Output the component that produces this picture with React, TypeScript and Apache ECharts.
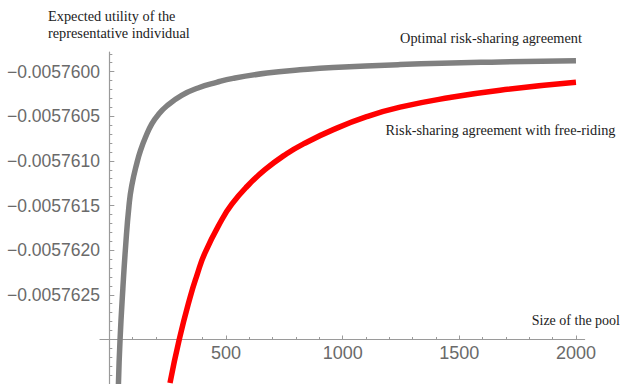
import React, { useEffect, useRef } from "react";
import * as echarts from "echarts";

// Pool size (number of members) and expected utility, optimal agreement
const optimalPoolSize = [39, 46, 58, 70, 84, 96, 119, 136, 155, 182, 209, 246, 310, 380, 460, 530, 676, 817, 959, 1246, 1675, 2000];
const optimalUtility = [
  -0.0057635, -0.005763, -0.00576243, -0.00576195, -0.00576151, -0.00576128, -0.005761015, -0.005760865,
  -0.005760735, -0.005760585, -0.005760485, -0.005760385, -0.005760265, -0.005760183, -0.00576012,
  -0.005760076, -0.005760016, -0.00575998, -0.005759953, -0.005759921, -0.005759891, -0.005759877,
];

// Agreement with free-riding
const freeRidingPoolSize = [260, 300, 346, 375, 410, 482, 525, 589, 667, 760, 832, 960, 1103, 1246, 1460, 1675, 2000];
const freeRidingUtility = [
  -0.00576349, -0.005762997, -0.00576253, -0.005762285, -0.00576203, -0.00576166, -0.005761485, -0.00576129,
  -0.005761099, -0.00576092, -0.00576081, -0.00576065, -0.005760505, -0.005760398, -0.00576029,
  -0.005760208, -0.00576012,
];

// Axis ticks and labels
const yMajorTicks = [-0.0057635, -0.005763, -0.0057625, -0.005762, -0.0057615, -0.005761, -0.0057605, -0.00576];
const yLabelValues = [-0.0057625, -0.005762, -0.0057615, -0.005761, -0.0057605, -0.00576];
const xMajorTicks = [500, 1000, 1500, 2000];
const xMinorTicks = [100, 200, 300, 400, 600, 700, 800, 900, 1100, 1200, 1300, 1400, 1600, 1700, 1800, 1900];

const AXIS_COLOR = "#9a9a9a";
const LABEL_COLOR = "#6a6a6a";
const SERIF = "'Liberation Serif', 'Times New Roman', serif";
const SANS = "'Liberation Sans', Arial, sans-serif";

const X_MIN = -40;
const X_MAX = 2037;
const Y_MIN = -0.0057635;
const Y_MAX = -0.00575978;
const X_AXIS_OFFSET = -44.5;

export default function App() {
  const ref = useRef<HTMLDivElement>(null);

  useEffect(() => {
    if (!ref.current) return;
    const chart = echarts.init(ref.current, undefined, { renderer: "svg" });

    const xAxisBase = {
      type: "value",
      min: X_MIN,
      max: X_MAX,
      position: "bottom",
      offset: X_AXIS_OFFSET,
      splitLine: { show: false },
    };

    chart.setOption({
      animation: false,
      backgroundColor: "#ffffff",
      grid: { left: 100, right: 36.4, top: 52, bottom: 0, outerBoundsMode: "none" },
      xAxis: [
        {
          ...xAxisBase,
          axisLine: { show: true, onZero: false, lineStyle: { color: AXIS_COLOR, width: 1.2 } },
          axisTick: {
            show: true,
            inside: true,
            length: 4,
            customValues: xMajorTicks,
            lineStyle: { color: AXIS_COLOR },
          },
          axisLabel: {
            show: true,
            customValues: xMajorTicks,
            formatter: (v: number) => String(v),
            color: LABEL_COLOR,
            fontFamily: SANS,
            fontSize: 18,
            margin: 4,
          },
        },
        {
          ...xAxisBase,
          axisLine: { show: false, onZero: false },
          axisTick: {
            show: true,
            inside: true,
            length: 2.5,
            customValues: xMinorTicks,
            lineStyle: { color: AXIS_COLOR },
          },
          axisLabel: { show: false },
        },
      ],
      yAxis: {
        type: "value",
        min: Y_MIN,
        max: Y_MAX,
        interval: 5e-7,
        splitLine: { show: false },
        axisLine: { show: true, onZero: true, onZeroAxisIndex: 0, lineStyle: { color: AXIS_COLOR, width: 1.2 } },
        axisTick: {
          show: true,
          inside: true,
          length: 5,
          customValues: yMajorTicks,
          lineStyle: { color: AXIS_COLOR },
        },
        minorTick: {
          show: true,
          splitNumber: 5,
          length: 3,
          lineStyle: { color: AXIS_COLOR },
        },
        axisLabel: {
          show: true,
          customValues: yLabelValues,
          formatter: (v: number) => "\u2212" + Math.abs(v).toFixed(7),
          color: LABEL_COLOR,
          fontFamily: SANS,
          fontSize: 17.5,
          margin: 0,
        },
      },
      series: [
        {
          name: "Optimal risk-sharing agreement",
          type: "line",
          xAxisIndex: 0,
          data: optimalPoolSize.map((n, i) => [n, optimalUtility[i]]),
          showSymbol: false,
          smooth: 0.5,
          lineStyle: { color: "#808080", width: 5.5, cap: "butt" },
          clip: true,
        },
        {
          name: "Risk-sharing agreement with free-riding",
          type: "line",
          xAxisIndex: 0,
          data: freeRidingPoolSize.map((n, i) => [n, freeRidingUtility[i]]),
          showSymbol: false,
          smooth: 0.5,
          lineStyle: { color: "#ff0000", width: 5.5, cap: "butt" },
          clip: true,
        },
      ],
      graphic: [
        {
          type: "text",
          x: 48,
          y: 7,
          style: {
            text: "Expected utility of the\nrepresentative individual",
            fontFamily: SERIF,
            fontSize: 14.3,
            lineHeight: 17,
            fill: "#222222",
            align: "left",
            verticalAlign: "top",
          },
        },
        {
          type: "text",
          x: 491,
          y: 38,
          style: {
            text: "Optimal risk-sharing agreement",
            fontFamily: SERIF,
            fontSize: 14.3,
            fill: "#222222",
            align: "center",
            verticalAlign: "middle",
          },
        },
        {
          type: "text",
          x: 500.5,
          y: 130,
          style: {
            text: "Risk-sharing agreement with free-riding",
            fontFamily: SERIF,
            fontSize: 14.3,
            fill: "#222222",
            align: "center",
            verticalAlign: "middle",
          },
        },
        {
          type: "text",
          x: 620,
          y: 320,
          style: {
            text: "Size of the pool",
            fontFamily: SERIF,
            fontSize: 14,
            fill: "#222222",
            align: "right",
            verticalAlign: "middle",
          },
        },
      ],
    });

    return () => chart.dispose();
  }, []);

  return (
    <div
      ref={ref}
      style={{ position: "fixed", left: 0, top: 0, width: 621, height: 384, background: "#ffffff" }}
    />
  );
}
